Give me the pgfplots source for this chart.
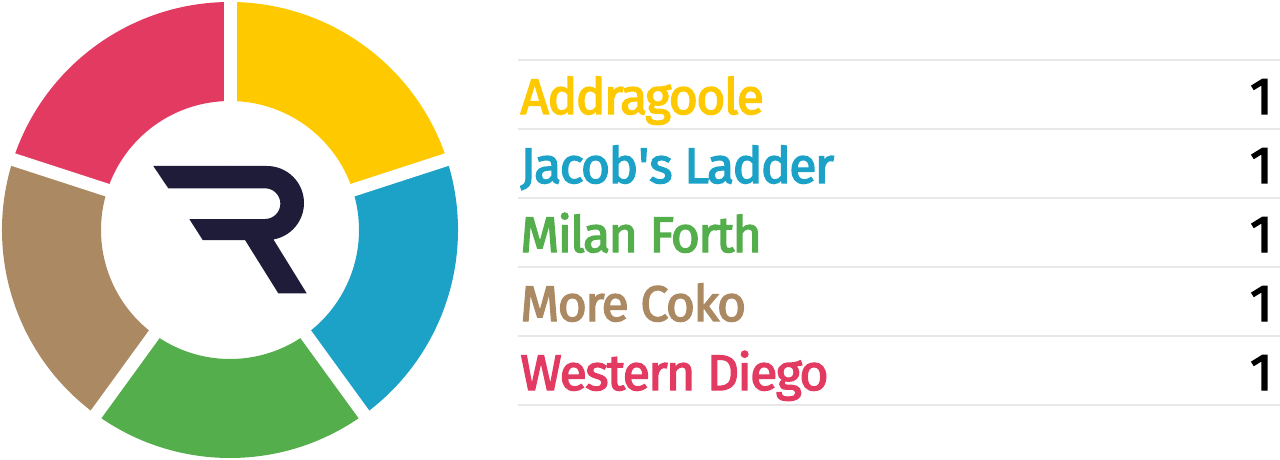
\documentclass[border=0pt]{standalone}
\usepackage{pgfplots}
\pgfplotsset{compat=1.18}
\usepackage{pgfplotstable}
\usepackage{fontspec}
\setmainfont{Fira Sans}
\newfontfamily\labelfont{Fira Sans}[LetterSpace=-3.2]
% fill and outline the glyphs so the labels come out semibold
\newcommand\heavy[1]{\special{pdf:literal direct 2 Tr 0.7 w}#1\special{pdf:literal direct 0 Tr}}

% segment colours, one per row of the table
\definecolor{pie0}{HTML}{FFC900}
\definecolor{pie1}{HTML}{1CA2C7}
\definecolor{pie2}{HTML}{54AE4C}
\definecolor{pie3}{HTML}{AB8A63}
\definecolor{pie4}{HTML}{E33A62}
\definecolor{logo}{HTML}{1F1C3A}
\definecolor{rulegray}{HTML}{E8E8E8}

\pgfplotstableread[col sep=comma]{
name,value
Addragoole,1
Jacob\textquotesingle s Ladder,1
Milan Forth,1
More Coko,1
Western Diego,1
}\pietable

% total of all values
\pgfplotstablegetrowsof{\pietable}
\pgfmathtruncatemacro\pielast{\pgfplotsretval-1}
\gdef\pietotal{0}
\foreach \i in {0,...,\pielast}{%
  \pgfplotstablegetelem{\i}{value}\of\pietable
  \pgfmathsetmacro\tmp{\pietotal+\pgfplotsretval}%
  \xdef\pietotal{\tmp}%
}
% start/end angles (clockwise from 12 o'clock), labels and values per row
\gdef\piecum{0}
\foreach \i in {0,...,\pielast}{%
  \pgfplotstablegetelem{\i}{value}\of\pietable
  \let\pv\pgfplotsretval
  \pgfmathsetmacro\aS{90-360*\piecum/\pietotal}%
  \pgfmathsetmacro\aE{90-360*(\piecum+\pv)/\pietotal}%
  \expandafter\xdef\csname pieS\i\endcsname{\aS}%
  \expandafter\xdef\csname pieE\i\endcsname{\aE}%
  \expandafter\xdef\csname pieV\i\endcsname{\pv}%
  \pgfmathsetmacro\tmp{\piecum+\pv}%
  \xdef\piecum{\tmp}%
  \pgfplotstablegetelem{\i}{name}\of\pietable
  \expandafter\xdef\csname pieN\i\endcsname{\pgfplotsretval}%
}
\newcommand\pS[1]{\csname pieS#1\endcsname}
\newcommand\pE[1]{\csname pieE#1\endcsname}

\begin{document}
\begin{tikzpicture}
\useasboundingbox (0,0) rectangle (640pt,230pt);
\begin{axis}[
  at={(0,0)}, anchor=south west,
  width=640pt, height=230pt, scale only axis,
  hide axis, clip=false,
  xmin=0, xmax=1280, ymin=0, ymax=460, y dir=reverse,
]
% row separators
\pgfplotsinvokeforeach{0,...,5}{
  \draw[rulegray, line width=0.9pt] (axis cs:518,{60+69*#1}) -- (axis cs:1280,{60+69*#1});
}
% donut segments, labels and values
\pgfplotsinvokeforeach{0,...,4}{
  \fill[pie#1]
    (axis cs:{230+228*cos(\pS{#1})},{230-228*sin(\pS{#1})})
    arc[start angle=\pS{#1}, end angle=\pE{#1}, radius=114pt]
    -- (axis cs:{230+129*cos(\pE{#1})},{230-129*sin(\pE{#1})})
    arc[start angle=\pE{#1}, end angle=\pS{#1}, radius=64.5pt]
    -- cycle;
  \node[anchor=base west, inner sep=0pt, text=pie#1,
        font=\fontsize{25}{30}\labelfont]
    at (axis cs:520,{114+69*#1}) {\heavy{\csname pieN#1\endcsname}};
  \node[anchor=base east, inner sep=0pt, text=black,
        font=\fontsize{26}{30}\selectfont]
    at (axis cs:1273,{114+69*#1}) {\heavy{\csname pieV#1\endcsname}};
}
% white gaps between segments
\pgfplotsinvokeforeach{0,...,4}{
  \draw[white, line width=6.5pt, overlay]
    (axis cs:230,230) -- (axis cs:{230+236*cos(\pS{#1})},{230-236*sin(\pS{#1})});
}
% centre logo
\fill[logo]
  (axis cs:153.3,166) -- (axis cs:267,166)
  arc[start angle=90, end angle=-80, radius=18.5pt]
  -- (axis cs:306.7,293.3) -- (axis cs:278.3,293.3)
  -- (axis cs:245,240) -- (axis cs:202.7,240)
  -- (axis cs:189.3,219) -- (axis cs:265,219)
  arc[start angle=-90, end angle=90, radius=7.675pt]
  -- (axis cs:168.3,188.3) -- cycle;
\end{axis}
\end{tikzpicture}
\end{document}
